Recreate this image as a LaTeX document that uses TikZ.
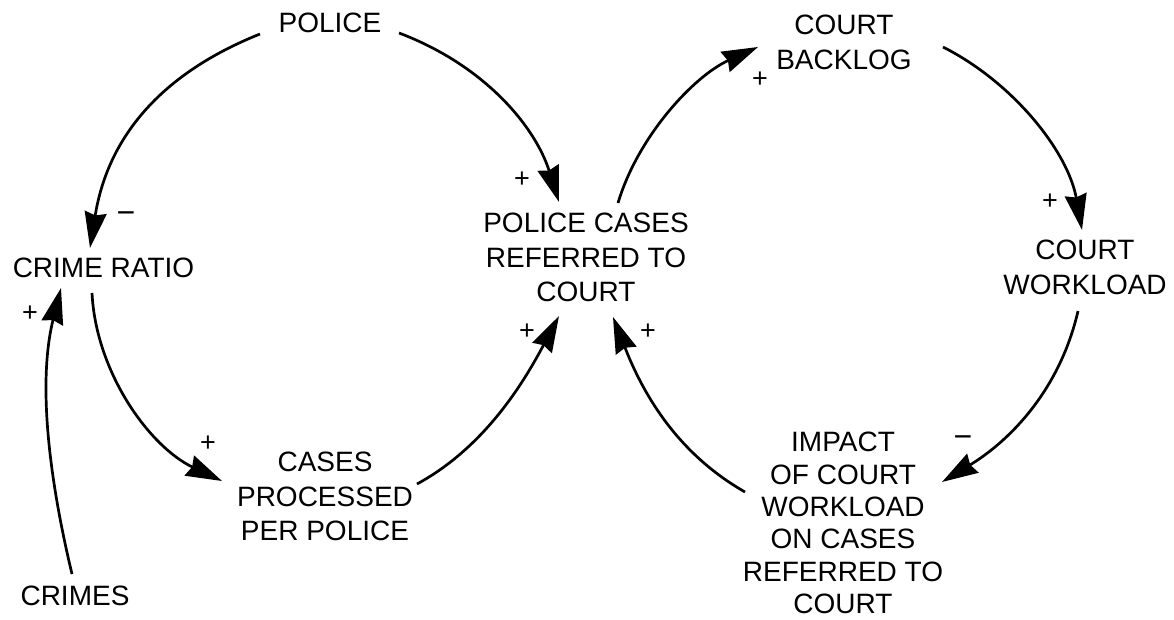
\documentclass[tikz,border=0pt]{standalone}
\usepackage{fontspec}
\setmainfont{Liberation Sans}
\usetikzlibrary{arrows.meta}

\tikzset{
  var/.style={font=\fontsize{28}{34.5}\selectfont, align=center, inner sep=0pt, text=black},
  tightvar/.style={var, font=\fontsize{28}{32.4}\selectfont},
  plus/.style={font=\fontsize{27}{27}\selectfont, inner sep=0pt},
  minus/.style={font=\fontsize{32}{32}\selectfont, inner sep=0pt},
  link/.style={line width=2.7pt, black,
    -{Stealth[length=36pt, width=22pt, inset=3pt]}}
}

\begin{document}
\begin{tikzpicture}[x=1pt, y=-1pt]
  % canvas
  \fill[white] (0,0) rectangle (1174,619);
  \useasboundingbox (0,0) rectangle (1174,619);

  % variables
  \node[var] (police)      at (330,23)     {POLICE};
  \node[var] (crimeratio)  at (103.5,267.5) {CRIME RATIO};
  \node[var] (crimes)      at (75,596)     {CRIMES};
  \node[var] (processed)   at (325,496.5)  {CASES\\PROCESSED\\PER POLICE};
  \node[var] (referred)    at (586,257.5)  {POLICE CASES\\REFERRED TO\\COURT};
  \node[var] (backlog)     at (844,42.5)   {COURT\\BACKLOG};
  \node[var] (workload)    at (1085,267.5) {COURT\\WORKLOAD};
  \node[tightvar] (impact) at (843,523)    {IMPACT\\OF COURT\\WORKLOAD\\ON CASES\\REFERRED TO\\COURT};

  % causal links
  \draw[link] ([shift={(-70,11)}]police.center)
    .. controls +(-100,40) and +(17.6,-110) .. ([shift={(-13.5,-19.5)}]crimeratio.center);
  \draw[link] ([shift={(69,10)}]police.center)
    .. controls +(85,32) and +(-24,-76) .. ([shift={(-27,-55.5)}]referred.center);
  \draw[link] ([shift={(-11.5,25.5)}]crimeratio.center)
    .. controls +(4,80) and +(-72,-34) .. ([shift={(-103,-15.5)}]processed.center);
  \draw[link] ([shift={(-3,-22)}]crimes.center)
    .. controls +(-24,-100) and +(-23,92) .. ([shift={(-42.5,20.5)}]crimeratio.center);
  \draw[link] ([shift={(92,-12.5)}]processed.center)
    .. controls +(70,-38) and +(-33,62) .. ([shift={(-27,58.5)}]referred.center);
  \draw[link] ([shift={(32,-54.5)}]referred.center)
    .. controls +(20,-67) and +(-64,29) .. ([shift={(-86,4.5)}]backlog.center);
  \draw[link] ([shift={(99,4.5)}]backlog.center)
    .. controls +(71,36) and +(-14,-78) .. ([shift={(-3,-37.5)}]workload.center);
  \draw[link] ([shift={(-7,43.5)}]workload.center)
    .. controls +(-18,78) and +(69,-42) .. ([shift={(99,-41)}]impact.center);
  \draw[link] ([shift={(-98,-31)}]impact.center)
    .. controls +(-70,-40) and +(29,74) .. ([shift={(27,59.5)}]referred.center);

  % link polarities
  \node[minus] (sgnA) at (126,218) {−};
  \node[plus]  (sgnB) at (522,180) {+};
  \node[plus]  (sgnC) at (30,314)  {+};
  \node[plus]  (sgnD) at (208,444) {+};
  \node[plus]  (sgnE) at (527,332) {+};
  \node[plus]  (sgnF) at (648,332) {+};
  \node[plus]  (sgnG) at (760,80)  {+};
  \node[plus]  (sgnH) at (1050,202) {+};
  \node[minus] (sgnI) at (963,442) {−};
\end{tikzpicture}
\end{document}
